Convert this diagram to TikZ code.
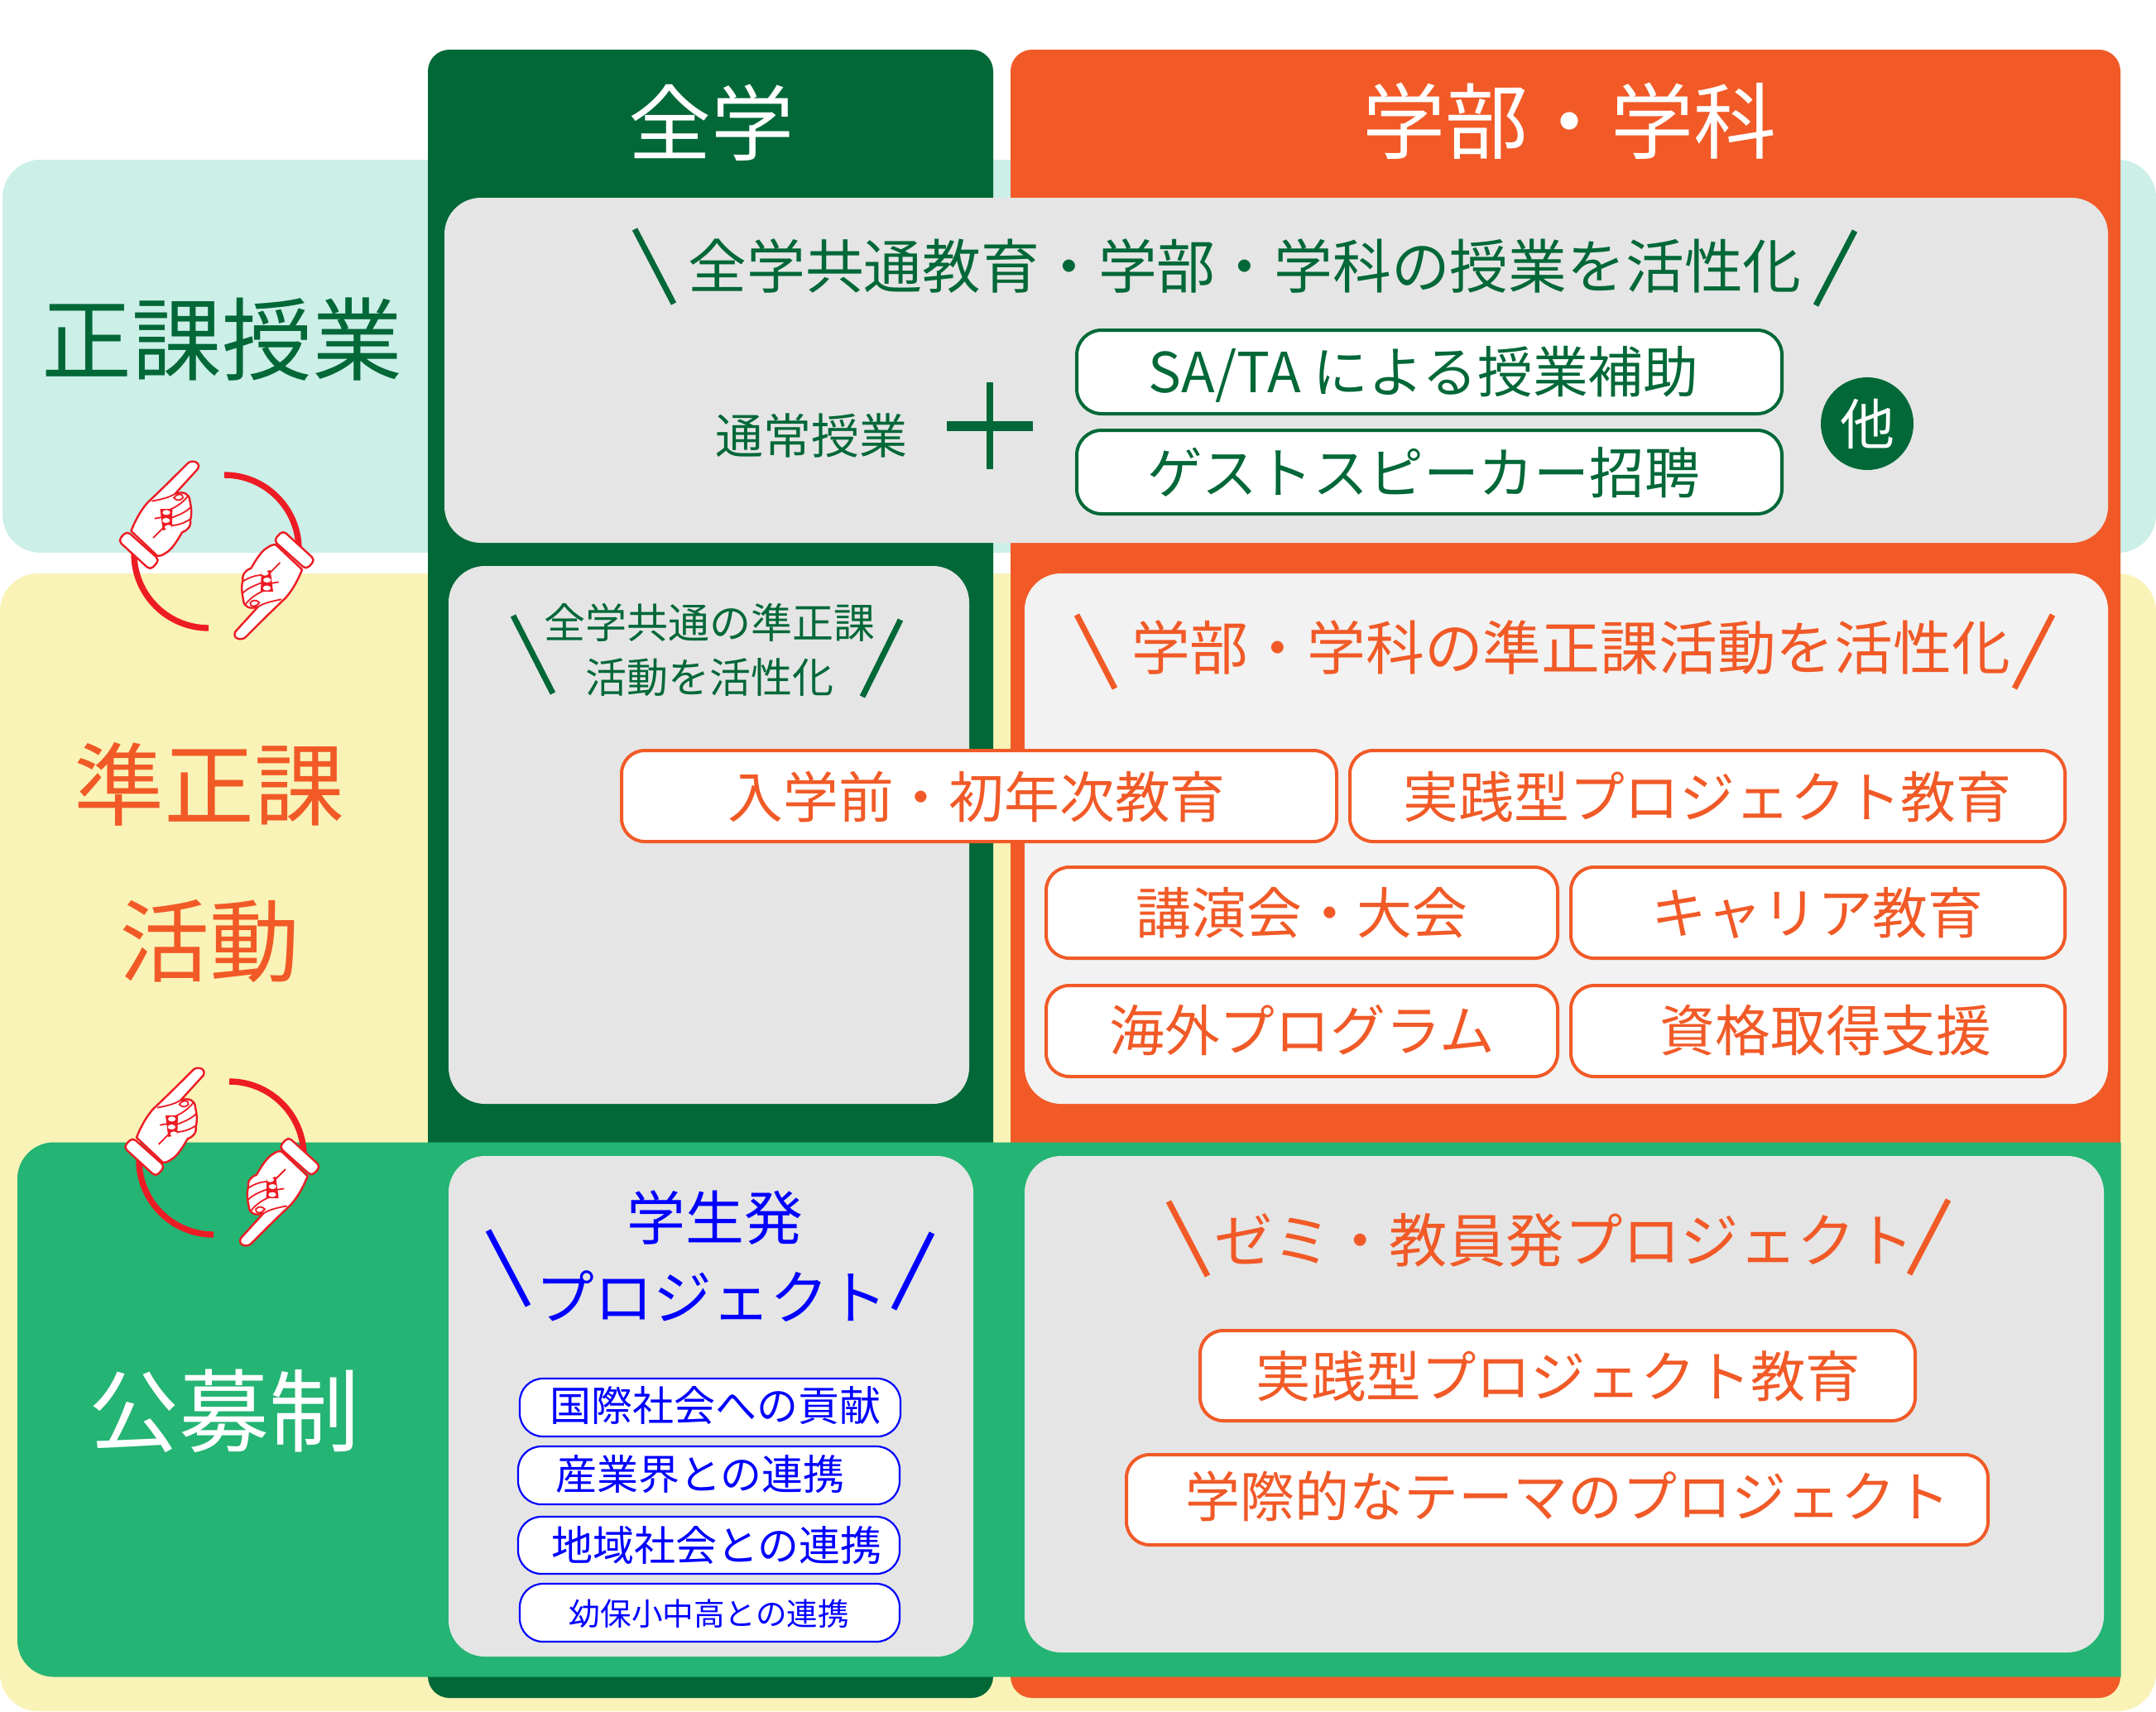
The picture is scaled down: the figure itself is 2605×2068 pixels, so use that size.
\documentclass[tikz,border=0pt]{standalone}
\usepackage{fontspec}
\setmainfont{Noto Sans CJK JP}
\definecolor{dgreen}{HTML}{026838}
\definecolor{orng}{HTML}{F15A27}
\definecolor{cyanbg}{HTML}{CCEFE8}
\definecolor{yellbg}{HTML}{FAF3B7}
\definecolor{mgreen}{HTML}{24B473}
\definecolor{gry}{HTML}{E5E5E5}
\definecolor{lgry}{HTML}{F2F2F2}
\definecolor{hred}{HTML}{ED1C24}
\definecolor{blu}{HTML}{0000FF}
\newcommand{\fs}[1]{\fontsize{#1}{#1}\selectfont}
\tikzset{
  band/.style={draw=none,rounded corners=23pt},
  panel/.style={draw=none,rounded corners=22pt},
  slashg/.style={dgreen,line width=3.5pt},
  slasho/.style={orng,line width=3.5pt},
  slashb/.style={blu,line width=3.5pt},
  gbox/.style={draw=dgreen,line width=2pt,fill=white,rounded corners=15pt},
  obox/.style={draw=orng,line width=2pt,fill=white,rounded corners=14pt},
  bbox/.style={draw=blu,line width=1.1pt,fill=white,rounded corners=14pt},
  lab/.style={inner sep=0pt,anchor=center},
  pics/hand/.style={code={
    % palm with finger
    \draw[hred,line width=1.2pt,fill=white,line join=round]
      (-310,-70) .. controls (-290,-120) and (-270,-150) .. (-250,-173)
      .. controls (-200,-220) and (-150,-270) .. (-105,-315)
      .. controls (-90,-330) and (-55,-320) .. (-68,-295)
      -- (-150,-205) .. controls (-120,-215) and (-98,-205) .. (-97,-180)
      .. controls (-93,-160) and (-88,-135) .. (-95,-110)
      .. controls (-92,-90) and (-100,-75) .. (-125,-65)
      .. controls (-145,-30) and (-165,0) .. (-185,10)
      .. controls (-200,22) and (-210,20) .. (-215,20)
      -- cycle;
    \draw[hred,line width=.9pt]
      (-235,-178) .. controls (-200,-185) and (-175,-190) .. (-150,-205)
      (-175,-145) .. controls (-150,-155) and (-125,-170) .. (-105,-195)
      (-170,-115) .. controls (-145,-125) and (-115,-135) .. (-95,-155)
      (-165,-90) .. controls (-140,-90) and (-115,-100) .. (-97,-112)
      (-225,-115) -- (-185,-122) (-230,-45) -- (-185,-90);
    \draw[hred,line width=.9pt,fill=white] (-155,-190) .. controls (-140,-210) and (-120,-205) .. (-122,-190) .. controls (-130,-180) and (-145,-178) .. (-155,-190) -- cycle;
    \fill[hred] (-205,-150) -- (-160,-150) -- (-162,-80) -- (-195,-72) -- cycle;
    \fill[white] (-182,-137) ellipse [x radius=14,y radius=9];
    \fill[white] (-183,-108) ellipse [x radius=14,y radius=9];
    \fill[white] (-175,-83) ellipse [x radius=13,y radius=9];
    % cuff
    \draw[hred,line width=1.2pt,fill=white,rounded corners=2.6pt]
      (-325,-70)--(-207,35)--(-240,72)--(-357,-35)--cycle;
  }}
}
\begin{document}
\begin{tikzpicture}[x=.5pt,y=-.5pt]
\useasboundingbox (0,0) rectangle (2605,2068);
% bands
\fill[cyanbg,band] (3,193) rectangle (2605,668);
\fill[yellbg,band] (0,693) rectangle (2605,2068);
% columns
\fill[dgreen,rounded corners=13pt] (517,60) rectangle (1200,2052);
\fill[orng,rounded corners=13pt] (1221,60) rectangle (2562,2052);
% green band
\fill[mgreen] (2562.5,1380.5) -- (2562.5,2026.5) [rounded corners=22pt] -- (21,2026.5) -- (21,1380.5) [sharp corners] -- cycle;
% panels
\fill[gry,panel] (537,239) rectangle (2547,656);
\fill[gry,panel] (542,684) rectangle (1171,1334);
\fill[lgry,panel] (1238,693) rectangle (2547,1334);
\fill[gry,panel] (542,1397) rectangle (1176,2002);
\fill[gry,panel] (1238,1397) rectangle (2542,1997);
% headers
\node[lab,white] (h1) at (859,148) {\fs{50}全学};
\node[lab,white] (h2) at (1896,146) {\fs{50}学部・学科};
\node[lab,dgreen] (l1) at (268,410) {\fs{54.5}正課授業};
\node[lab,orng] (l2a) at (253,948) {\fs{54.5}準正課};
\node[lab,orng] (l2b) at (253,1138) {\fs{54.5}活動};
\node[lab,white] (l3) at (271,1705) {\fs{54.5}公募制};
% top panel
\node[lab,dgreen] (t1) at (1504,322) {\fs{35.4}全学共通教育・学部・学科の授業を活性化};
\draw[slashg] (767,277)--(814,367);
\draw[slashg] (2241,279)--(2194,369);
\node[lab,dgreen] (t2) at (980,526) {\fs{29}通常授業};
\fill[dgreen] (1144,509) rectangle (1248,521);
\fill[dgreen] (1192,462) rectangle (1200,567);
\draw[gbox] (1301,399) rectangle (2153,500);
\draw[gbox] (1301,520) rectangle (2153,621);
\node[lab,dgreen] (t3) at (1720,452) {\fs{33.4}SA/TA による授業補助};
\node[lab,dgreen] (t4) at (1720,571) {\fs{33.4}ゲストスピーカー招聘};
\fill[dgreen] (2256,512) circle (56);
\node[lab,white] (t5) at (2256,512) {\fs{33}他};
% mid left
\node[lab,dgreen] (m1) at (857,752) {\fs{25}全学共通の準正課};
\node[lab,dgreen] (m2) at (857,819) {\fs{25}活動を活性化};
\draw[slashg] (620,744)--(668,838);
\draw[slashg] (1088,749)--(1042,842);
% mid right
\node[lab,orng] (m3) at (1898,783) {\fs{35.4}学部・学科の準正課活動を活性化};
\draw[slasho] (1301,743)--(1347,832);
\draw[slasho] (2480,743)--(2434,832);
\draw[obox] (751,907) rectangle (1615,1017);
\draw[obox] (1631,907) rectangle (2495,1017);
\draw[obox] (1264,1048) rectangle (1882,1158);
\draw[obox] (1898,1048) rectangle (2495,1158);
\draw[obox] (1264,1191) rectangle (1882,1301);
\draw[obox] (1898,1191) rectangle (2495,1301);
\node[lab,orng] (b1) at (1180,963) {\fs{33.4}入学前・初年次教育};
\node[lab,orng] (b2) at (2063,963) {\fs{33.4}実践型プロジェクト教育};
\node[lab,orng] (b3) at (1573,1103) {\fs{33.4}講演会・大会};
\node[lab,orng] (b4) at (2196,1103) {\fs{33.4}キャリア教育};
\node[lab,orng] (b5) at (1573,1245) {\fs{33.4}海外プログラム};
\node[lab,orng] (b6) at (2206,1245) {\fs{33.4}資格取得支援};
% bottom left
\node[lab,blu] (s1) at (864,1472) {\fs{35.4}学生発};
\node[lab,blu] (s2) at (860,1567) {\fs{35.4}プロジェクト};
\draw[slashb] (590,1487)--(638,1578);
\draw[slashb] (1126,1490)--(1080,1582);
\draw[bbox] (628,1666) rectangle (1088,1736);
\draw[bbox] (626,1748) rectangle (1087,1818);
\draw[bbox] (626,1833) rectangle (1087,1902);
\draw[bbox] (628,1914) rectangle (1087,1984);
\node[lab,blu] (c1) at (864,1699) {\fs{25}国際社会への貢献};
\node[lab,blu] (c2) at (846,1782) {\fs{25}産業界との連携};
\node[lab,blu] (c3) at (866,1868) {\fs{25}地域社会との連携};
\node[lab,blu] (c4) at (857,1950) {\fs{18.8}幼保小中高との連携};
% bottom right
\node[lab,orng] (z1) at (1890,1499) {\fs{35.2}ゼミ・教員発プロジェクト};
\draw[slasho] (1412,1452)--(1459,1542);
\draw[slasho] (2354,1450)--(2307,1540);
\draw[obox] (1450,1608) rectangle (2314,1717);
\draw[obox] (1361,1758) rectangle (2402,1867);
\node[lab,orng] (z2) at (1883,1663) {\fs{33.2}実践型プロジェクト教育};
\node[lab,orng] (z3) at (1894,1808) {\fs{33}学際的なテーマのプロジェクト};
% hands 1
\draw[hred,line width=3.7pt] (271,574) arc (-90:0:90);
\draw[hred,line width=3.7pt] (252,759) arc (90:180:90);
\pic[scale=1/3] at (261.7,665) {hand};
\pic[scale=1/3,rotate=180] at (261.7,665) {hand};
% hands 2
\draw[hred,line width=3.7pt] (277,1307) arc (-90:0:90);
\draw[hred,line width=3.7pt] (258,1492) arc (90:180:90);
\pic[scale=1/3] at (268.3,1398) {hand};
\pic[scale=1/3,rotate=180] at (268.3,1398) {hand};
\end{tikzpicture}
\end{document}
